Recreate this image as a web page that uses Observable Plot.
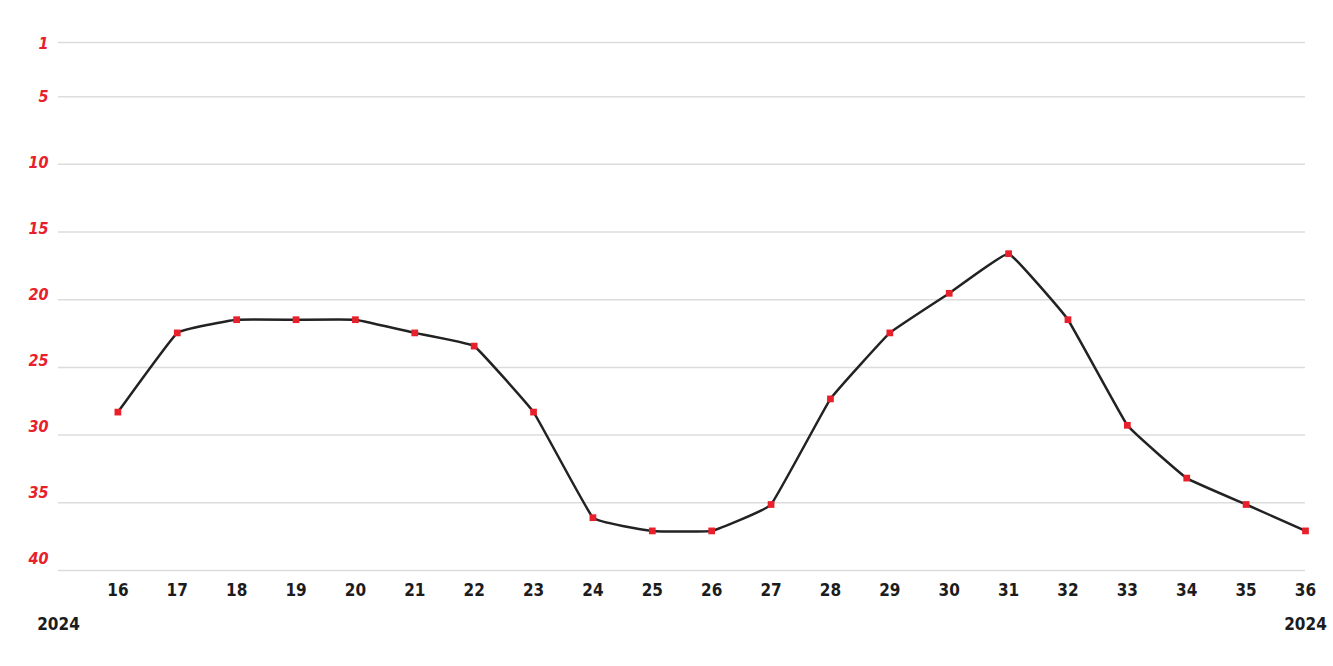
<!DOCTYPE html>
<html>
<head>
<meta charset="utf-8">
<script src="https://cdn.jsdelivr.net/npm/d3@7"></script>
<script src="https://cdn.jsdelivr.net/npm/@observablehq/plot@0.6"></script>
<style>
  html, body { margin: 0; padding: 0; background: #fff; }
  #chart svg { font-family: "DejaVu Sans Condensed", "DejaVu Sans", sans-serif; font-stretch: condensed; }
  #chart svg text { font-stretch: condensed; }
</style>
</head>
<body>
<div id="chart"></div>
<script>
// Weeks of 2024 and chart position (rank) per week
const weeks = [16, 17, 18, 19, 20, 21, 22, 23, 24, 25, 26, 27, 28, 29, 30, 31, 32, 33, 34, 35, 36];
const ranks = [28, 22, 21, 21, 21, 22, 23, 28, 36, 37, 37, 35, 27, 22, 19, 16, 21, 29, 33, 35, 37];
const yTickLabels = [1, 5, 10, 15, 20, 25, 30, 35, 40];
const yearLabels = ["2024", "2024"];
const yearWeeks = [15, 36];

const RED = "#e8202b";
const data = weeks.map((w, i) => ({week: w, rank: ranks[i]}));
const years = yearWeeks.map((w, i) => ({week: w, label: yearLabels[i]}));
// the original chart spaces its gridlines evenly from the top rank to the bottom rank
const gridTicks = yTickLabels.map(t => (t - 1) * 40 / 39);

const chart = Plot.plot({
  width: 1333,
  height: 666,
  marginTop: 42,
  marginBottom: 96,
  marginLeft: 58,
  marginRight: 28,
  x: {domain: [15, 36], axis: null},
  y: {domain: [0, 40], reverse: true, axis: null},
  marks: [
    Plot.gridY(gridTicks, {stroke: "#dcdcdc", strokeOpacity: 1, strokeWidth: 1.5}),
    Plot.axisY(yTickLabels, {
      tickSize: 0, tickPadding: 10, dy: -12, label: null,
      fill: RED, fontSize: 16, fontWeight: "bold", fontStyle: "italic"
    }),
    Plot.axisX(weeks, {
      tickSize: 0, tickPadding: 13, label: null,
      fill: "#1c1c1c", fontSize: 17, fontWeight: "bold"
    }),
    Plot.text(years, {
      x: "week", text: "label", frameAnchor: "bottom", dy: 54, lineAnchor: "middle",
      fill: "#1c1c1c", fontSize: 17, fontWeight: "bold"
    }),
    Plot.line(data, {x: "week", y: "rank", curve: "cardinal", tension: 0.75, stroke: "#222", strokeWidth: 2.5}),
    Plot.dot(data, {x: "week", y: "rank", symbol: "square", r: 3.8, fill: RED, stroke: "none"})
  ]
});
document.getElementById("chart").appendChild(chart);
</script>
</body>
</html>
